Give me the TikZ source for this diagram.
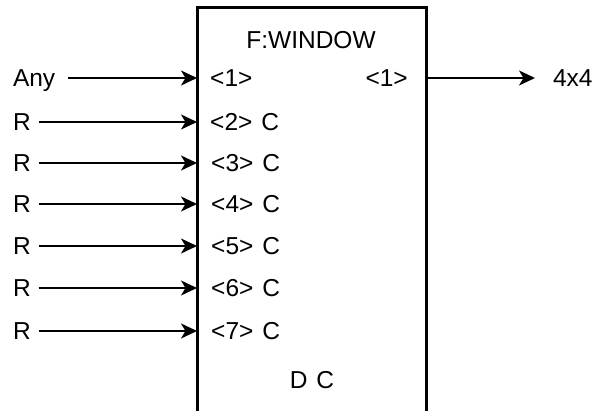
\documentclass[tikz,border=0pt]{standalone}
\usepackage{fontspec}
\setmainfont{Liberation Sans}
\usetikzlibrary{arrows.meta}
\begin{document}
\begin{tikzpicture}[x=1pt,y=-1pt,
  lbl/.style={inner sep=0pt, font=\fontsize{24.5}{28}\selectfont},
  srcR/.style={lbl, anchor=base west, outer xsep=8pt},
  portlbl/.style={lbl, anchor=base west},
  conn/.style={line width=1.8pt, -{Stealth[length=16pt,width=15pt,inset=4.5pt]}},
  boxedge/.style={line width=3pt, line join=miter}]
\useasboundingbox (0,0) rectangle (596,411);
% box (bottom edge lies outside the picture)
\coordinate (wbl) at (197,412);
\coordinate (wtl) at (197,8);
\coordinate (wtr) at (426,8);
\coordinate (wbr) at (426,412);
\draw[boxedge] (wbl) -- (wtl) -- (wtr) -- (wbr);
% texts inside the box
\node[lbl, anchor=base] (title) at (311,48.6) {F:WINDOW};
\node[portlbl] (l1) at (210,86.6) {\textless1\textgreater};
\node[portlbl] (l2) at (210,130.6) {\textless2\textgreater\hspace{9pt}C};
\node[portlbl] (l3) at (211,171.6) {\textless3\textgreater\hspace{9pt}C};
\node[portlbl] (l4) at (211,212.6) {\textless4\textgreater\hspace{9pt}C};
\node[portlbl] (l5) at (211,254.6) {\textless5\textgreater\hspace{9pt}C};
\node[portlbl] (l6) at (211,296.6) {\textless6\textgreater\hspace{9pt}C};
\node[portlbl] (l7) at (211,339.6) {\textless7\textgreater\hspace{9pt}C};
\node[lbl, anchor=base east] (r1) at (408,86.6) {\textless1\textgreater};
\node[lbl, anchor=base] (dc) at (312,388) {D\hspace{9pt}C};
% port points on the box edges
\coordinate (p1) at (197,78);
\coordinate (p2) at (197,122);
\coordinate (p3) at (197,163);
\coordinate (p4) at (197,204);
\coordinate (p5) at (197,246);
\coordinate (p6) at (197,288);
\coordinate (p7) at (197,331);
\coordinate (q1) at (426,78);
% sources
\node[lbl, anchor=base west, outer xsep=13pt] (s1) at (0,86.6) {Any};
\node[srcR] (s2) at (5,130.6) {R};
\node[srcR] (s3) at (5,171.6) {R};
\node[srcR] (s4) at (5,212.6) {R};
\node[srcR] (s5) at (5,254.6) {R};
\node[srcR] (s6) at (5,296.6) {R};
\node[srcR] (s7) at (5,339.6) {R};
% output
\node[lbl, anchor=base west, outer xsep=18pt] (o1) at (535,86.6) {4x4};
% connectors
\draw[conn] (s1.east |- p1) -- (p1);
\draw[conn] (s2.east |- p2) -- (p2);
\draw[conn] (s3.east |- p3) -- (p3);
\draw[conn] (s4.east |- p4) -- (p4);
\draw[conn] (s5.east |- p5) -- (p5);
\draw[conn] (s6.east |- p6) -- (p6);
\draw[conn] (s7.east |- p7) -- (p7);
\draw[conn] (q1) -- (o1.west |- q1);
\end{tikzpicture}
\end{document}
